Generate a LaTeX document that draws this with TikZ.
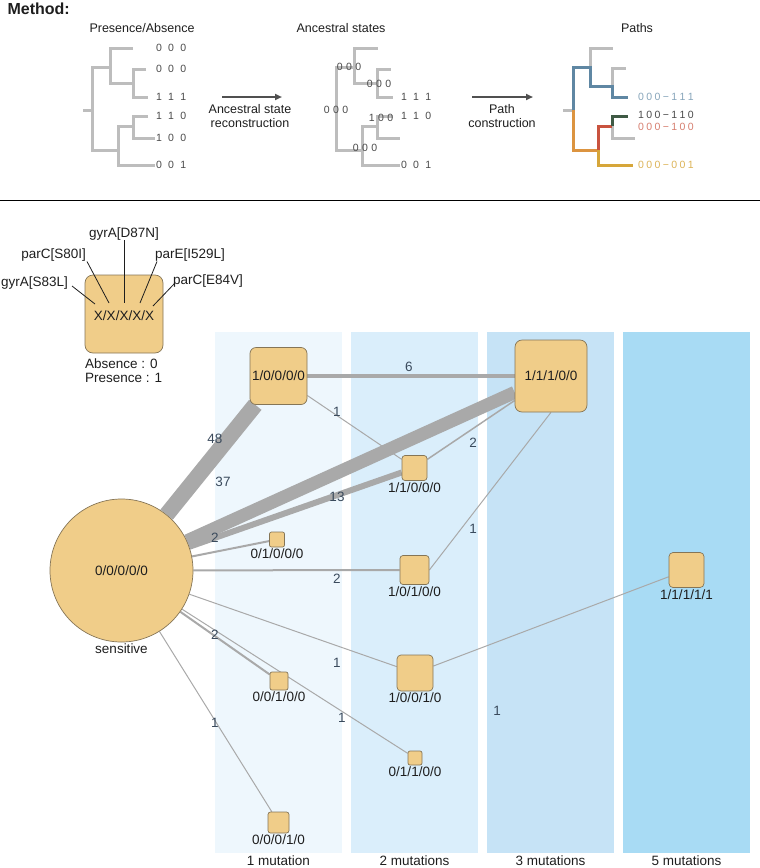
\documentclass[tikz,border=0pt]{standalone}
\usepackage{fontspec}
\setmainfont{Liberation Sans}
\usetikzlibrary{arrows.meta}

\definecolor{ink}{HTML}{1E1E1E}
\definecolor{nodefill}{HTML}{F0CD89}
\definecolor{rim}{HTML}{857556}
\definecolor{edgegray}{HTML}{A9A9A9}
\definecolor{countink}{HTML}{3A4A5C}
\definecolor{treegray}{HTML}{BDBDBD}
\definecolor{bitink}{HTML}{4A4A4A}
\definecolor{arrowgray}{HTML}{505050}
\definecolor{bandA}{HTML}{EEF7FD}
\definecolor{bandB}{HTML}{DAEEFB}
\definecolor{bandC}{HTML}{C6E3F6}
\definecolor{bandD}{HTML}{A8DBF4}
\definecolor{pathblue}{HTML}{5F87A3}
\definecolor{pathorange}{HTML}{DC9440}
\definecolor{pathred}{HTML}{C9533F}
\definecolor{pathgreen}{HTML}{3F5A45}
\definecolor{pathgold}{HTML}{D6A63A}

\pgfdeclarelayer{bands}
\pgfdeclarelayer{edges}
\pgfsetlayers{bands,edges,main}

\newcommand{\lsep}{\hspace{6.2pt}}
\newcommand{\isep}{\hspace{3.4pt}}
\newcommand{\bsep}{\hspace{2.4pt}}

% same tree shape for the first two panels
\newcommand{\genetree}{%
  \draw[branch] (133,48) -| (110,83) -- (133,83);
  \draw[branch] (146,69) -| (133,97) -- (148,97);
  \draw[branch] (110,67) -| (92,150) -- (118,150);
  \draw[branch] (148,116) -| (133,138) -- (155,138);
  \draw[branch] (133,126) -| (118,165) -- (155,165);
}

\begin{document}
\begin{tikzpicture}[x=1pt, y=-1pt,
  every node/.style={text=ink, font=\fontsize{13.5}{15}\selectfont},
  every label/.style={inner sep=1.5pt},
  genotype/.style={rectangle, draw=rim, fill=nodefill, line width=0.7pt, rounded corners=#1, inner sep=0pt},
  genotype/.default=3pt,
  flow/.style={draw=edgegray, line width=#1},
  count/.style={text=countink, inner sep=0pt},
  branch/.style={draw=treegray, line width=3pt},
  bits/.style={text=bitink, font=\fontsize{10.5}{12}\selectfont, inner sep=0pt},
  title/.style={font=\fontsize{12.5}{14}\selectfont, align=center},
  recon/.style={-{Triangle[length=7pt,width=6pt]}, draw=arrowgray, line width=2pt},
  marker/.style={draw=ink, line width=0.8pt}]
\useasboundingbox (0,0) rectangle (760,868);

% method panel
\node[anchor=base west, font=\fontsize{16}{18}\selectfont\bfseries] (method) at (4,14) {Method:};
\node[title] (presence) at (142,28) {Presence/Absence};
\node[title] (ancestral) at (341,28) {Ancestral states};
\node[title] (paths) at (637,28) {Paths};

\draw[branch] (83,110) -- (92,110);
\genetree
\begin{scope}[xshift=244.5pt]
\genetree
\end{scope}
\node[bits, anchor=west] (leafa) at (156,48) {0\lsep0\lsep0};
\node[bits, anchor=west] (leafb) at (156,69) {0\lsep0\lsep0};
\node[bits, anchor=west] (leafc) at (156,97) {1\lsep1\lsep1};
\node[bits, anchor=west] (leafd) at (156,116) {1\lsep1\lsep0};
\node[bits, anchor=west] (leafe) at (156,138) {1\lsep0\lsep0};
\node[bits, anchor=west] (leaff) at (156,165) {0\lsep0\lsep1};
\node[bits, anchor=west] (ancc) at (401,97) {1\lsep1\lsep1};
\node[bits, anchor=west] (ancd) at (401,116) {1\lsep1\lsep0};
\node[bits, anchor=west] (ancf) at (401,165) {0\lsep0\lsep1};
\node[bits] (inroot) at (336,110) {0\isep0\isep0};
\node[bits] (inup) at (349,67) {0\isep0\isep0};
\node[bits] (inmid) at (379,84) {0\isep0\isep0};
\node[bits] (inlow) at (365,148) {0\isep0\isep0};
\node[bits] (inred) at (381,118) {1\isep0\isep0};

\coordinate (recona) at (222,97);
\coordinate (reconb) at (282,97);
\draw[recon] (recona) -- (reconb);
\node[title] (reconlbl) at (250,116) {Ancestral state\\reconstruction};
\coordinate (patha) at (472,97);
\coordinate (pathb) at (533,97);
\draw[recon] (patha) -- (pathb);
\node[title] (pathlbl) at (502,116) {Path\\construction};

% paths tree
\draw[branch] (563,110) -- (573,110);
\draw[branch] (590,67) -- (590,48) -- (613,48);
\draw[branch] (612,86) -- (612,68) -- (626,68);
\draw[branch] (612,126) -- (612,138) -- (635,138);
\draw[branch, draw=pathblue] (573,110) -- (573,67) -- (590,67) -- (590,86) -- (612,86) -- (612,97) -- (628,97);
\draw[branch, draw=pathorange] (573,110) -- (573,150) -- (598,150);
\draw[branch, draw=pathgold] (598,150) -- (598,165) -- (633,165);
\draw[branch, draw=pathred] (598,150) -- (598,126) -- (612,126);
\draw[branch, draw=pathgreen] (612,126) -- (612,116) -- (628,116);
\node[bits, anchor=west, text=pathblue!75] (pblue) at (638,97) {0\bsep0\bsep0\bsep−\bsep1\bsep1\bsep1};
\node[bits, anchor=west, text=bitink] (pgreen) at (638,115) {1\bsep0\bsep0\bsep−\bsep1\bsep1\bsep0};
\node[bits, anchor=west, text=pathred!75] (pred) at (638,127) {0\bsep0\bsep0\bsep−\bsep1\bsep0\bsep0};
\node[bits, anchor=west, text=pathgold!85] (pgold) at (638,165) {0\bsep0\bsep0\bsep−\bsep0\bsep0\bsep1};

\draw[line width=0.8pt] (0,200) -- (760,200);

% legend
\node[genotype=8pt, minimum size=78pt] (legend) at (124,314) {};
\node (xlbl) at (124,316) {X/X/X/X/X};
\node[align=left, anchor=north west, inner sep=0pt, font=\fontsize{13.5}{13.5}\selectfont] (code) at (85,359) {Absence : 0\\Presence : 1};
\node[anchor=east, inner sep=0pt] (mS83L) at (68,283) {gyrA[S83L]};
\node[anchor=east, inner sep=0pt] (mS80I) at (86,255) {parC[S80I]};
\node[inner sep=0pt] (mD87N) at (124,234) {gyrA[D87N]};
\node[anchor=west, inner sep=0pt] (mI529L) at (155,255) {parE[I529L]};
\node[anchor=west, inner sep=0pt] (mE84V) at (173,281) {parC[E84V]};
\coordinate (tS83L) at (95,304);
\coordinate (tS80I) at (109,303);
\coordinate (tD87N) at (124,303);
\coordinate (tI529L) at (140,303);
\coordinate (tE84V) at (153,306);
\draw[marker] ([xshift=4pt,yshift=-3pt]mS83L.east) -- (tS83L);
\draw[marker] ([xshift=1pt]mS80I.south east) -- (tS80I);
\draw[marker] (mD87N.south) -- (tD87N);
\draw[marker] ([xshift=2pt]mI529L.south west) -- (tI529L);
\draw[marker] ([xshift=2pt,yshift=-2pt]mE84V.west) -- (tE84V);

% mutation bands
\begin{pgfonlayer}{bands}
\fill[bandA] (215,332) rectangle (342,853);
\fill[bandB] (351,332) rectangle (478,853);
\fill[bandC] (487,332) rectangle (614,853);
\fill[bandD] (623,332) rectangle (750,853);
\end{pgfonlayer}
\node (one) at (278.5,861) {1 mutation};
\node (two) at (414.5,861) {2 mutations};
\node (three) at (550.5,861) {3 mutations};
\node (five) at (686.5,861) {5 mutations};

% genotypes
\node[circle, draw=rim, fill=nodefill, line width=0.7pt, minimum size=143pt, inner sep=0pt, label={below:sensitive}] (s) at (121.5,570.5) {0/0/0/0/0};
\node[genotype=6pt, minimum size=57pt] (g10000) at (278.5,376) {1/0/0/0/0};
\node[genotype=7pt, minimum size=72pt] (g11100) at (551,376) {1/1/1/0/0};
\node[genotype=3pt, minimum size=25pt, label={below:1/1/0/0/0}] (g11000) at (414.5,468) {};
\node[genotype=2pt, minimum size=15pt, label={below:0/1/0/0/0}] (g01000) at (277,539.5) {};
\node[genotype=3pt, minimum size=29pt, label={below:1/0/1/0/0}] (g10100) at (414.5,570) {};
\node[genotype=4pt, minimum size=36pt, label={below:1/0/0/1/0}] (g10010) at (415,673) {};
\node[genotype=2pt, minimum size=18pt, label={below:0/0/1/0/0}] (g00100) at (279,681) {};
\node[genotype=2pt, minimum size=14pt, label={below:0/1/1/0/0}] (g01100) at (415,758) {};
\node[genotype=2.5pt, minimum size=21pt, label={below:0/0/0/1/0}] (g00010) at (278.5,822.5) {};
\node[genotype=4pt, minimum size=35pt, label={below:1/1/1/1/1}] (g11111) at (686.5,570) {};

\begin{pgfonlayer}{edges}
\draw[flow=16pt] (s) -- (g10000);
\draw[flow=13pt] (s) -- (g11100);
\draw[flow=6pt] (s) -- (g11000);
\draw[flow=4pt] (g10000) -- (g11100);
\draw[flow=1pt] (g10000) -- (g11000);
\draw[flow=1.5pt] (g11000) -- (g11100);
\draw[flow=2pt] (s) -- (g01000);
\draw[flow=2pt] (s) -- (g10100);
\draw[flow=1pt] (g10100.east) -- (g11100.south);
\draw[flow=2pt] (s) -- (g00100);
\draw[flow=1pt] (s) -- (g10010);
\draw[flow=1pt] (s) -- (g01100);
\draw[flow=1pt] (s) -- (g00010);
\draw[flow=1pt] (g10010) -- (g11111);
\end{pgfonlayer}

% counts
\node[count] (c48) at (215,439) {48};
\node[count] (c37) at (223,482) {37};
\node[count] (c13) at (337,497) {13};
\node[count] (c6) at (409,367) {6};
\node[count] (cac) at (337,412) {1};
\node[count] (ccb) at (473,443) {2};
\node[count] (ceb) at (473,529) {1};
\node[count] (csd) at (215,538) {2};
\node[count] (cse) at (337,579) {2};
\node[count] (csg) at (215,635) {2};
\node[count] (csf) at (337,663) {1};
\node[count] (csh) at (342,718) {1};
\node[count] (csi) at (215,723) {1};
\node[count] (cfj) at (497,711) {1};
\end{tikzpicture}
\end{document}
